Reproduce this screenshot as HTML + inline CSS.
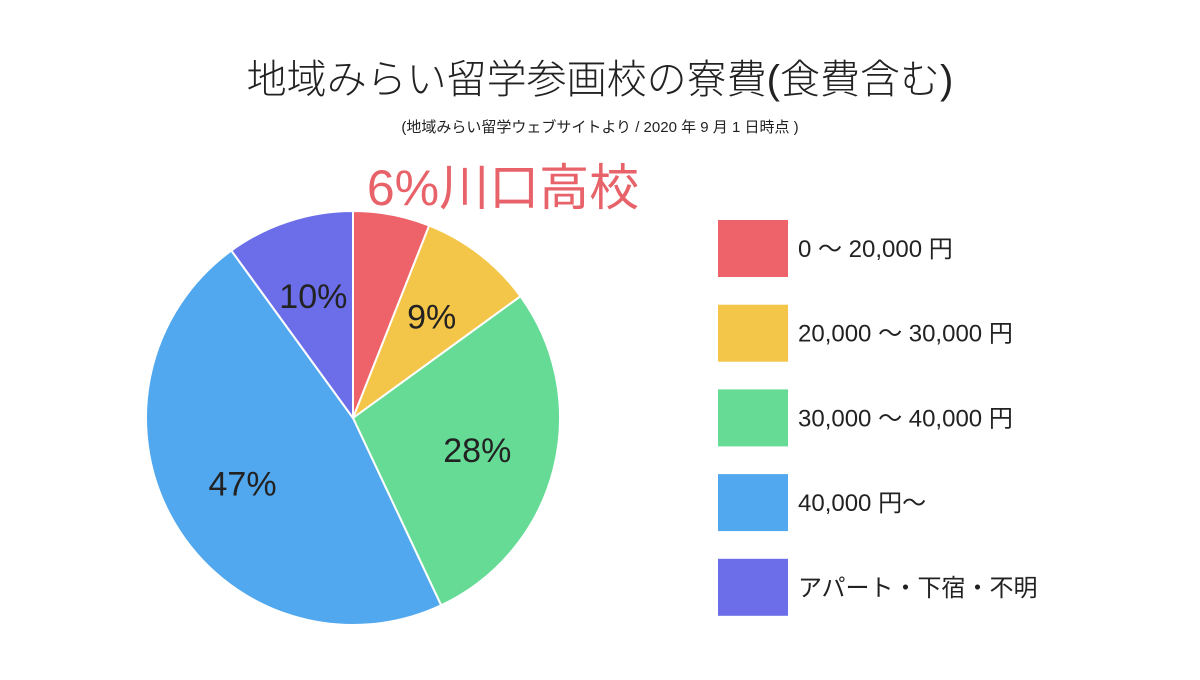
<!DOCTYPE html>
<html><head><meta charset="utf-8"><style>
body{margin:0;width:1200px;height:675px;background:#fff;overflow:hidden;font-family:"Liberation Sans","Noto Sans CJK JP",sans-serif;}
</style></head><body>
<svg id="chart" width="1200" height="675" xmlns="http://www.w3.org/2000/svg" font-family="Liberation Sans, Noto Sans CJK JP, sans-serif">
<text x="600" y="93" text-anchor="middle" font-size="40" fill="#222" font-weight="300">地域みらい留学参画校の寮費(食費含む)</text>
<text x="600" y="132" text-anchor="middle" font-size="15" fill="#222">(地域みらい留学ウェブサイトより / 2020 年 9 月 1 日時点 )</text>
<text x="503" y="205" text-anchor="middle" font-size="50" fill="#e8626a">6%川口高校</text>
<g id="slices"></g>
<g id="legend"></g>
</svg>
<script>
const categories=["0 〜 20,000 円","20,000 〜 30,000 円","30,000 〜 40,000 円","40,000 円〜","アパート・下宿・不明"];
const values=[6,9,28,47,10];
const labels=["","9%","28%","47%","10%"];
const colors=["#ee6369","#f3c548","#65db96","#52a8ee","#6b6ee8"];
const cx=353,cy=418,r=207,ns="http://www.w3.org/2000/svg";
const total=values.reduce((a,b)=>a+b,0);
const g=document.getElementById('slices'),lg=document.getElementById('legend');
let a0=0;
function pt(a,rr){return [cx+rr*Math.sin(a),cy-rr*Math.cos(a)];}
values.forEach((v,i)=>{
  const a1=a0+v/total*2*Math.PI;
  const p0=pt(a0,r),p1=pt(a1,r);
  const path=document.createElementNS(ns,'path');
  path.setAttribute('d',`M${cx},${cy}L${p0[0]},${p0[1]}A${r},${r} 0 ${a1-a0>Math.PI?1:0} 1 ${p1[0]},${p1[1]}Z`);
  path.setAttribute('fill',colors[i]);path.setAttribute('stroke','#fff');path.setAttribute('stroke-width','2');
  
  
  g.appendChild(path);
  if(labels[i]){
    const m=pt((a0+a1)/2,r*0.62);
    const t=document.createElementNS(ns,'text');
    t.setAttribute('x',m[0]);t.setAttribute('y',m[1]+12);t.setAttribute('text-anchor','middle');
    t.setAttribute('font-size','34');t.setAttribute('fill','#222');t.textContent=labels[i];
    
    
    g.appendChild(t);
  }
  a0=a1;
  const y=220+i*84.7;
  const rect=document.createElementNS(ns,'rect');
  rect.setAttribute('x',718);rect.setAttribute('y',y);rect.setAttribute('width',70);rect.setAttribute('height',57);rect.setAttribute('fill',colors[i]);
  
  
  lg.appendChild(rect);
  const t=document.createElementNS(ns,'text');
  t.setAttribute('x',798);t.setAttribute('y',y+37);t.setAttribute('font-size','24');t.setAttribute('fill','#222');t.textContent=categories[i];
  
  
  lg.appendChild(t);
});
</script>
</body></html>
